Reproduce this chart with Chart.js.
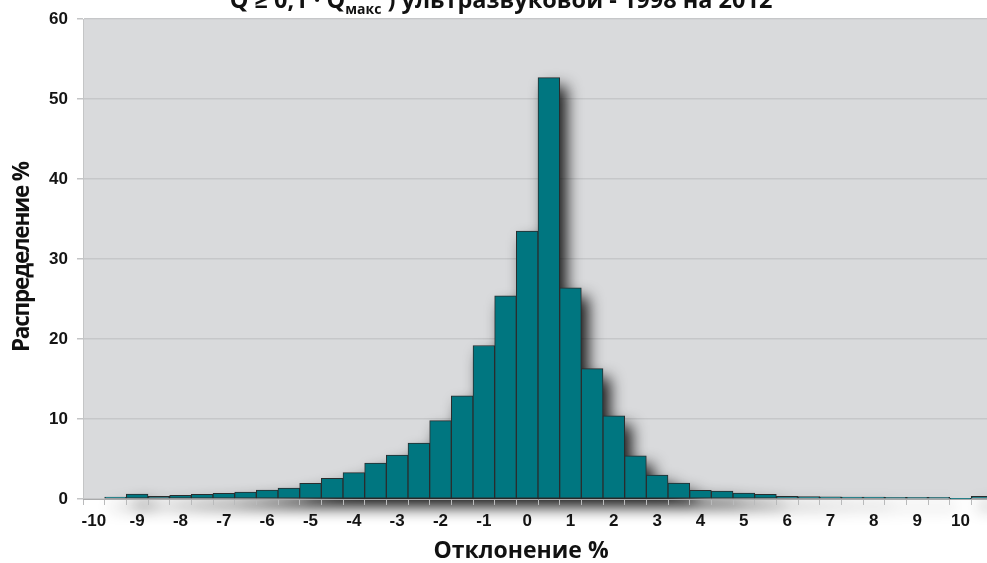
<!DOCTYPE html>
<html lang="ru">
<head>
<meta charset="utf-8">
<title>Распределение отклонений</title>
<script src="https://cdn.jsdelivr.net/npm/chart.js@4.4.1/dist/chart.umd.min.js"></script>
<style>
  html, body { margin: 0; padding: 0; background: #ffffff; overflow: hidden; }
  #wrap { position: relative; width: 1000px; height: 563px; }
  canvas { display: block; }
</style>
</head>
<body>
<div id="wrap"><canvas id="chart" width="1000" height="563"></canvas></div>
<script>
// Deviation bins, 0.5 % wide
const bins = [
  '-10', '-9.5', '-9', '-8.5', '-8', '-7.5', '-7', '-6.5', '-6', '-5.5',
  '-5', '-4.5', '-4', '-3.5', '-3', '-2.5', '-2', '-1.5', '-1', '-0.5',
  '0', '0.5', '1', '1.5', '2', '2.5', '3', '3.5', '4', '4.5',
  '5', '5.5', '6', '6.5', '7', '7.5', '8', '8.5', '9', '9.5',
  '10', '10.5'
];

// Share of measurements per bin, %
const distribution = [
  0, 0.25, 0.62, 0.34, 0.46, 0.58, 0.7, 0.87, 1.1, 1.37,
  1.95, 2.57, 3.3, 4.5, 5.5, 7.0, 9.8, 12.9, 19.2, 25.4,
  33.5, 52.7, 26.4, 16.3, 10.4, 5.4, 3.0, 2.0, 1.08, 1.0,
  0.75, 0.58, 0.33, 0.3, 0.27, 0.25, 0.25, 0.2, 0.2, 0.2,
  0.05, 0.33
];

// Labels written under the x axis (every whole percent)
const xTickLabels = [
  '-10', '', '-9', '', '-8', '', '-7', '', '-6', '',
  '-5', '', '-4', '', '-3', '', '-2', '', '-1', '',
  '0', '', '1', '', '2', '', '3', '', '4', '',
  '5', '', '6', '', '7', '', '8', '', '9', '',
  '10', ''
];

const yTicks = [0, 10, 20, 30, 40, 50, 60];

const headerParts = ['Q ≥ 0,1 · Q', 'макс', ' ) ультразвуковой - 1998 на 2012'];
const xTitle = 'Отклонение %';
const yTitle = 'Распределение %';

const TITLE_FONT = '"Open Sans", "DejaVu Sans", sans-serif';

// Plot background, soft drop shadow under the bars, header and axis titles
const decor = {
  id: 'decor',
  beforeDraw(chart) {
    const { ctx, chartArea: a } = chart;
    ctx.save();
    ctx.fillStyle = '#d9dadc';
    ctx.fillRect(a.left, a.top, a.right - a.left, a.bottom - a.top);
    ctx.restore();
  },
  beforeDatasetsDraw(chart) {
    const { ctx } = chart;
    const meta = chart.getDatasetMeta(0);
    const shift = 3000;
    ctx.save();
    ctx.beginPath();
    meta.data.forEach(bar => {
      const p = bar.getProps(['x', 'y', 'base', 'width'], true);
      const h = p.base - p.y;
      if (h > 0) ctx.rect(p.x - p.width / 2 - shift, p.y, p.width, h);
    });
    ctx.shadowColor = 'rgba(0,0,0,0.9)';
    ctx.shadowBlur = 15;
    ctx.shadowOffsetX = shift + 7;
    ctx.shadowOffsetY = 9;
    ctx.fillStyle = '#000';
    ctx.fill();
    ctx.restore();
  },
  afterDraw(chart) {
    const { ctx, chartArea: a } = chart;
    ctx.save();
    ctx.fillStyle = '#111';
    ctx.textBaseline = 'alphabetic';
    // header line (its upper part lies above the canvas edge)
    const big = 'bold 23.5px ' + TITLE_FONT;
    const small = 'bold 14px ' + TITLE_FONT;
    ctx.font = big;
    const w0 = ctx.measureText(headerParts[0]).width;
    const w2 = ctx.measureText(headerParts[2]).width;
    ctx.font = small;
    const w1 = ctx.measureText(headerParts[1]).width;
    let x = 501 - (w0 + w1 + w2) / 2;
    ctx.font = big;
    ctx.fillText(headerParts[0], x, 8);
    x += w0;
    ctx.font = small;
    ctx.fillText(headerParts[1], x, 13.5);
    x += w1;
    ctx.font = big;
    ctx.fillText(headerParts[2], x, 8);
    // x axis title
    ctx.font = 'bold 23px ' + TITLE_FONT;
    ctx.textAlign = 'center';
    ctx.textBaseline = 'middle';
    ctx.fillText(xTitle, 521, 551);
    // y axis title, rotated
    ctx.translate(23, (a.top + a.bottom) / 2 - 2);
    ctx.rotate(-Math.PI / 2);
    ctx.font = 'bold 22.5px ' + TITLE_FONT;
    ctx.letterSpacing = '-1.2px';
    ctx.fillText(yTitle, 0, 0);
    ctx.restore();
  }
};

Chart.defaults.font.family = '"Liberation Sans", Arial, sans-serif';

new Chart(document.getElementById('chart'), {
  type: 'bar',
  data: {
    labels: bins,
    datasets: [{
      data: distribution,
      backgroundColor: '#007680',
      borderColor: '#2a2d2e',
      borderWidth: 1,
      borderSkipped: false,
      categoryPercentage: 1,
      barPercentage: 1
    }]
  },
  options: {
    responsive: false,
    devicePixelRatio: 1,
    animation: false,
    layout: { padding: { top: 16, right: 7, bottom: 0, left: 0 } },
    plugins: {
      legend: { display: false },
      tooltip: { enabled: false }
    },
    scales: {
      x: {
        type: 'category',
        offset: true,
        afterFit(scale) { scale.height = 64; },
        grid: {
          offset: true,
          drawOnChartArea: false,
          drawTicks: true,
          tickLength: 6,
          tickColor: '#b9babb',
          z: 1
        },
        border: { display: true, color: '#a9aaab', width: 1, z: 1 },
        ticks: {
          autoSkip: false,
          maxRotation: 0,
          minRotation: 0,
          padding: 6,
          color: '#141414',
          font: { size: 17, weight: 'bold' },
          z: 1,
          callback: (value, index) => xTickLabels[index]
        }
      },
      y: {
        min: 0,
        max: 60,
        afterFit(scale) { scale.width = 83; },
        afterBuildTicks(scale) { scale.ticks = yTicks.map(v => ({ value: v })); },
        grid: {
          color: '#c6c7c9',
          lineWidth: 1.5,
          tickLength: 6,
          tickColor: '#c4c5c6'
        },
        border: { display: true, color: '#c4c5c6', width: 1 },
        ticks: {
          padding: 9,
          color: '#141414',
          font: { size: 17, weight: 'bold' }
        }
      }
    }
  },
  plugins: [decor]
});
</script>
</body>
</html>
